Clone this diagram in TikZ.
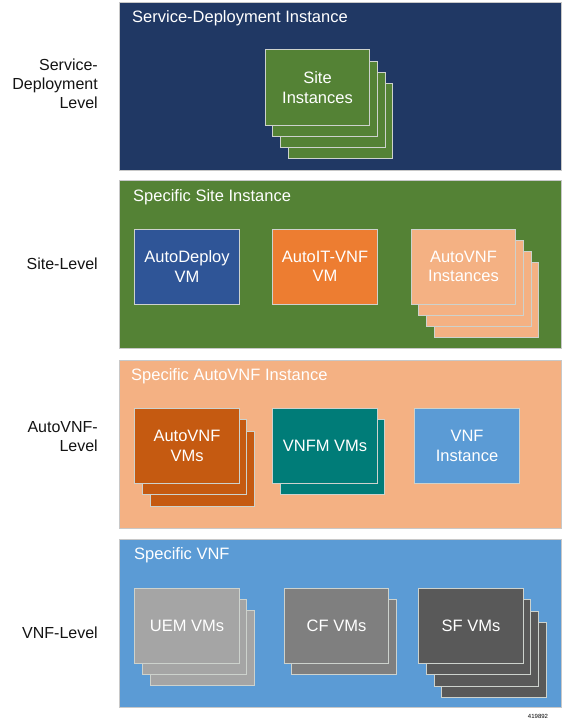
\documentclass[tikz,border=0pt]{standalone}
\usepackage{fontspec}
\setmainfont{Liberation Sans}
\definecolor{navy}{RGB}{32,56,100}
\definecolor{pgreen}{RGB}{84,130,53}
\definecolor{peach}{RGB}{244,177,131}
\definecolor{pblue}{RGB}{91,155,213}
\definecolor{adblue}{RGB}{47,85,151}
\definecolor{aorange}{RGB}{237,125,49}
\definecolor{rust}{RGB}{197,90,17}
\definecolor{teal2}{RGB}{0,124,120}
\definecolor{g1}{RGB}{165,165,165}
\definecolor{g2}{RGB}{127,127,127}
\definecolor{g3}{RGB}{89,89,89}
\definecolor{edgec}{RGB}{205,210,205}
\definecolor{paneledge}{RGB}{200,200,200}
\tikzset{
  panel/.style={draw=paneledge, line width=1pt, anchor=north west, minimum width=442pt, minimum height=168pt, inner sep=0pt},
  ptitle/.style={anchor=west, text=white, inner sep=0pt, font=\fontsize{16.5}{19.5}\selectfont},
  card/.style={draw=edgec, line width=1pt, minimum width=104.5pt, minimum height=75pt, inner sep=0pt, align=center, text=white, font=\fontsize{16.5}{19.5}\selectfont},
  side/.style={anchor=east, align=right, inner sep=0pt, text=black!92, font=\fontsize{16}{19}\selectfont}
}
\newcommand\cardstack[7]{%
  \foreach \k in {#4,...,1} {
    \node[card, fill=#5] (#1-\k) at ({#2+\k*7.7},{#3+\k*11.3}) {};
  }
  \node[card, fill=#5] (#1) at (#2,#3) {#6#7};
}
\begin{document}
\begin{tikzpicture}[x=1pt,y=-1pt]
\useasboundingbox (0,0) rectangle (563,725);
\fill[white] (0,0) rectangle (563,725);
% panels
\node[panel, fill=navy] (p1) at (119,2) {};
\node[panel, fill=pgreen] (p2) at (119,180) {};
\node[panel, fill=peach] (p3) at (119,359.5) {};
\node[panel, fill=pblue] (p4) at (119,538.5) {};
\node[ptitle] (t1) at (132,18) {Service-Deployment Instance};
\node[ptitle] (t2) at (133,197) {Specific Site Instance};
\node[ptitle] (t3) at (131,376) {Specific AutoVNF Instance};
\node[ptitle] (t4) at (134,555) {Specific VNF};
% side labels
\node[side] (l1) at (98,84) {Service-\\Deployment\\Level};
\node[side] (l2) at (98,264) {Site-Level};
\node[side] (l3) at (98,437) {AutoVNF-\\Level};
\node[side] (l4) at (98,633) {VNF-Level};
% panel 1
\cardstack{si}{317.5}{87.5}{3}{pgreen}{}{Site\\Instances}
% panel 2
\node[card, fill=adblue] (ad) at (187,266.5) {AutoDeploy\\VM};
\node[card, fill=aorange] (ait) at (325,266.5) {AutoIT-VNF\\VM};
\cardstack{avi}{463.5}{266.5}{3}{peach}{}{AutoVNF\\Instances}
% panel 3
\cardstack{avm}{187}{446}{2}{rust}{}{AutoVNF\\VMs}
\cardstack{vnfm}{325}{446}{1}{teal2}{}{VNFM VMs}
\node[card, fill=pblue] (vnfi) at (467,446) {VNF\\Instance};
% panel 4
\cardstack{uem}{187}{625.5}{2}{g1}{}{UEM VMs}
\cardstack{cf}{336.5}{625.5}{1}{g2}{}{CF VMs}
\cardstack{sf}{471}{626}{3}{g3}{}{SF VMs}
\node[inner sep=0pt, font=\fontsize{6}{7}\selectfont] (id) at (538,716) {419892};
\end{tikzpicture}
\end{document}
